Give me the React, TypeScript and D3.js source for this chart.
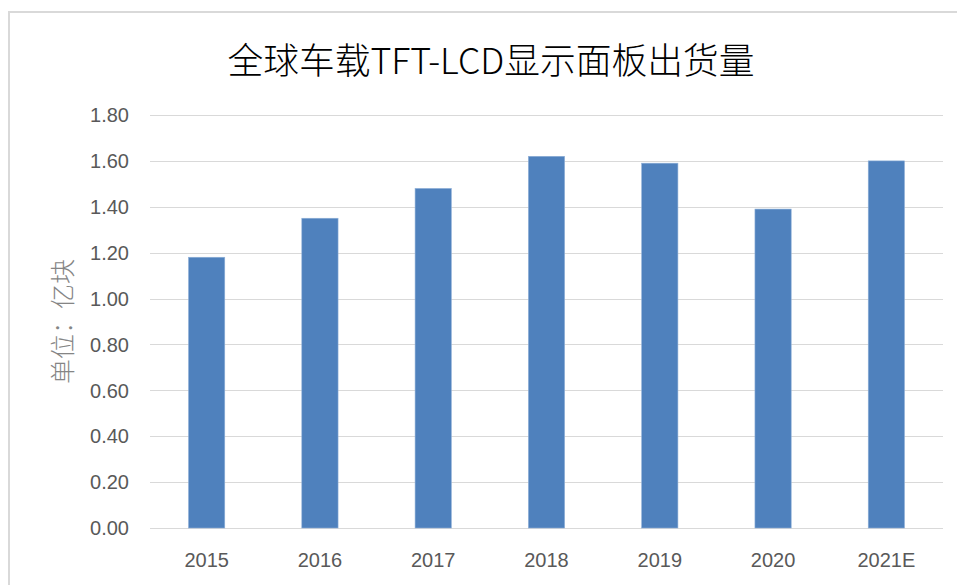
import React from "react";
import * as d3 from "d3";

const categories: string[] = ["2015", "2016", "2017", "2018", "2019", "2020", "2021E"];
const values: number[] = [1.18, 1.35, 1.48, 1.62, 1.59, 1.39, 1.6];
const yTicks: number[] = [0, 0.2, 0.4, 0.6, 0.8, 1.0, 1.2, 1.4, 1.6, 1.8];
const title = "全球车载TFT-LCD显示面板出货量";
const yLabel = "单位：亿块";

const W = 957;
const H = 585;
const plot = { left: 150, right: 943, top: 115, bottom: 528 };

export default function App() {
  const x = d3
    .scaleBand<string>()
    .domain(categories)
    .range([plot.left, plot.right])
    .paddingInner(0.68)
    .paddingOuter(0.34);
  const y = d3.scaleLinear().domain([0, 1.8]).range([plot.bottom, plot.top]);

  return (
    <svg
      width={W}
      height={H}
      style={{ position: "absolute", left: 0, top: 0, background: "#fff" }}
    >
      <rect x={9} y={12} width={W + 20} height={H + 20} fill="#fff" stroke="#d9d9d9" strokeWidth={2} />
      <text
        x={491}
        y={74}
        textAnchor="middle"
        fontFamily="'Noto Sans CJK SC', sans-serif"
        fontWeight={300}
        fontSize={36}
        fill="#000"
        textLength={527}
        lengthAdjust="spacingAndGlyphs"
      >
        {title}
      </text>
      {yTicks.map((t) => (
        <g key={t}>
          <line
            x1={plot.left}
            x2={plot.right}
            y1={Math.round(y(t)) + 0.5}
            y2={Math.round(y(t)) + 0.5}
            stroke="#d9d9d9"
            strokeWidth={1}
          />
          <text
            x={129}
            y={y(t)}
            dy="0.36em"
            textAnchor="end"
            fontFamily="'Liberation Sans', Arial, sans-serif"
            fontSize={20}
            fill="#595959"
          >
            {t.toFixed(2)}
          </text>
        </g>
      ))}
      {categories.map((c, i) => (
        <g key={c}>
          <rect
            x={x(c)!}
            y={y(values[i])}
            width={x.bandwidth()}
            height={y(0) - y(values[i])}
            fill="#4f81bd"
            stroke="#8fb0d8"
            strokeWidth={0.6}
          />
          <text
            x={x(c)! + x.bandwidth() / 2}
            y={567}
            textAnchor="middle"
            fontFamily="'Liberation Sans', Arial, sans-serif"
            fontSize={20}
            fill="#595959"
          >
            {c}
          </text>
        </g>
      ))}
      <text
        transform={`translate(72, ${(plot.top + plot.bottom) / 2}) rotate(-90)`}
        textAnchor="middle"
        fontFamily="'Noto Sans CJK SC', sans-serif"
        fontWeight={300}
        fontSize={25}
        fill="#858585"
      >
        {yLabel}
      </text>
    </svg>
  );
}
